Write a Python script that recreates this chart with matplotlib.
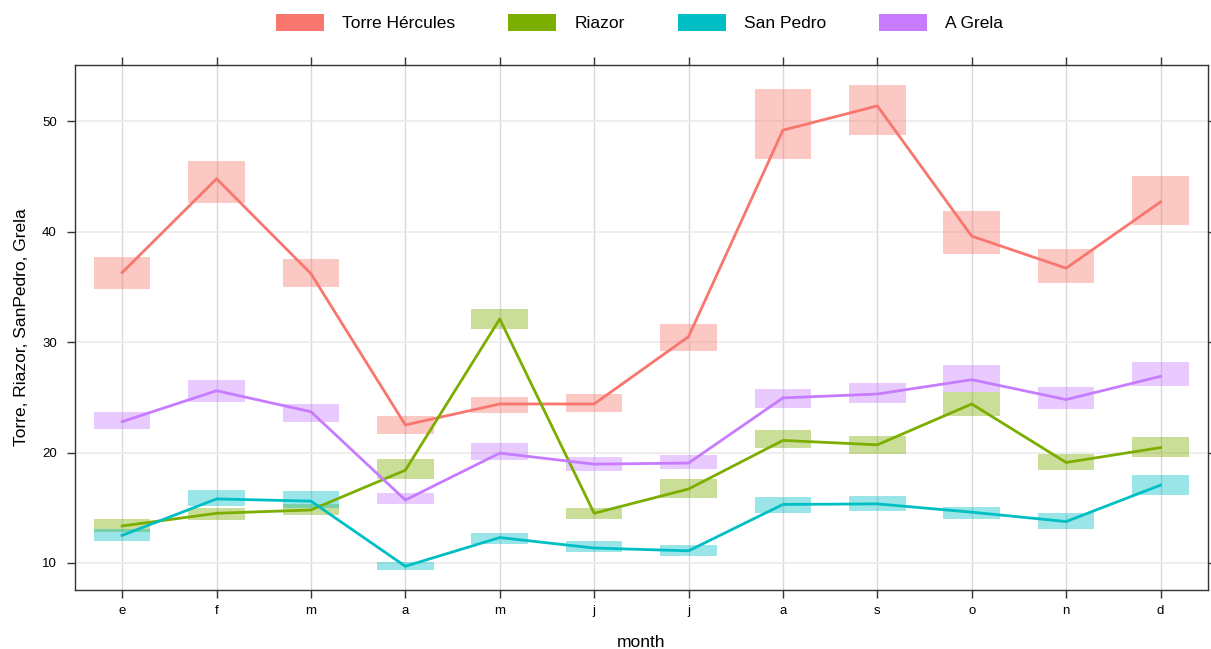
import matplotlib
matplotlib.use("Agg")
import matplotlib.pyplot as plt
from matplotlib.patches import Patch
import numpy as np

plt.rcParams['font.family'] = ['Liberation Sans', 'DejaVu Sans']

months = ["e", "f", "m", "a", "m", "j", "j", "a", "s", "o", "n", "d"]
series_names = ["Torre Hércules", "Riazor", "San Pedro", "A Grela"]
colors = ["#F8766D", "#7CAE00", "#00BFC4", "#C77CFF"]

torre_mean = [36.3, 44.8, 36.2, 22.5, 24.4, 24.4, 30.5, 49.2, 51.4, 39.6, 36.7, 42.7]
torre_lo = [34.8, 42.6, 35.0, 21.7, 23.6, 23.7, 29.2, 46.6, 48.8, 38.0, 35.4, 40.65]
torre_hi = [37.7, 46.4, 37.5, 23.3, 25.0, 25.3, 31.6, 52.9, 53.3, 41.9, 38.4, 45.05]

riazor_mean = [13.35, 14.5, 14.8, 18.4, 32.1, 14.5, 16.7, 21.1, 20.7, 24.4, 19.1, 20.45]
riazor_lo = [12.8, 13.9, 14.3, 17.6, 31.2, 14.0, 15.9, 20.4, 19.9, 23.3, 18.4, 19.6]
riazor_hi = [14.0, 15.0, 15.3, 19.4, 33.0, 15.0, 17.6, 22.0, 21.5, 25.5, 19.9, 21.4]

sanpedro_mean = [12.5, 15.8, 15.6, 9.7, 12.3, 11.35, 11.1, 15.3, 15.35, 14.6, 13.75, 17.05]
sanpedro_lo = [12.0, 15.2, 15.0, 9.4, 11.7, 11.0, 10.6, 14.5, 14.7, 14.0, 13.1, 16.15]
sanpedro_hi = [13.1, 16.6, 16.5, 10.1, 12.75, 12.0, 11.6, 16.0, 16.1, 15.1, 14.5, 18.0]

grela_mean = [22.8, 25.6, 23.7, 15.7, 19.95, 18.95, 19.05, 24.95, 25.3, 26.6, 24.8, 26.9]
grela_lo = [22.1, 24.6, 22.8, 15.3, 19.3, 18.3, 18.5, 24.05, 24.45, 25.5, 23.95, 26.0]
grela_hi = [23.7, 26.55, 24.4, 16.3, 20.9, 19.6, 19.8, 25.8, 26.3, 27.95, 25.9, 28.2]

means = [torre_mean, riazor_mean, sanpedro_mean, grela_mean]
los = [torre_lo, riazor_lo, sanpedro_lo, grela_lo]
his = [torre_hi, riazor_hi, sanpedro_hi, grela_hi]

fig = plt.figure(figsize=(12.11, 6.49), dpi=100)
ax = fig.add_axes([0.0619, 0.0909, 0.9354, 0.8089])

x = np.arange(1, 13)
yt = [10, 20, 30, 40, 50]
for v in x:
    ax.axvline(v, color="#d9d9d9", lw=1.0, zorder=0)
for v in yt:
    ax.axhline(v, color="#ebebeb", lw=1.2, zorder=0)

for m, lo, hi, c in zip(means, los, his, colors):
    lo = np.array(lo); hi = np.array(hi)
    ax.bar(x, hi - lo, bottom=lo, width=0.6, color=c, alpha=0.4, lw=0, zorder=1)
for m, c in zip(means, colors):
    ax.plot(x, m, color=c, lw=2.0, zorder=2)

ax.set_xlim(0.5, 12.5)
ax.set_ylim(7.55, 55.1)
ax.set_xticks(x)
ax.set_xticklabels(months)
ax.set_yticks(yt)
ax.tick_params(axis="both", direction="out", length=6, width=1, labelsize=9.5,
               top=True, right=True, labeltop=False, labelright=False, color="#333333")
ax.tick_params(axis="x", pad=5)
ax.tick_params(axis="y", pad=7)
for s in ax.spines.values():
    s.set_color("#333333")
    s.set_linewidth(1.0)
ax.set_xlabel("month", fontsize=12.5, labelpad=13)
ax.set_ylabel("Torre, Riazor, SanPedro, Grela", fontsize=12.5, labelpad=9.5)

handles = [Patch(facecolor=c, edgecolor="none") for c in colors]
fs = 12.5
em = fs * 100 / 72
fig.legend(handles, series_names, loc="center", bbox_to_anchor=(0.528, 0.965),
           ncol=4, frameon=False, fontsize=fs, handlelength=48 / em, handleheight=19 / em,
           handletextpad=18 / em, columnspacing=53 / em, borderpad=0, borderaxespad=0)

fig.savefig("out.png", dpi=100)
